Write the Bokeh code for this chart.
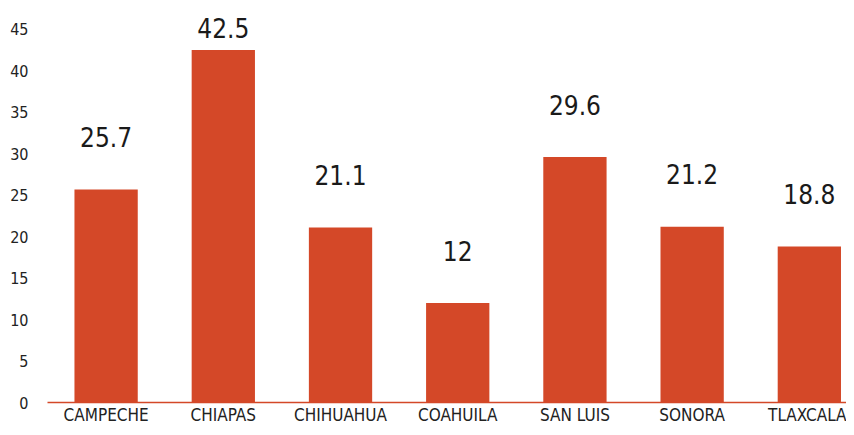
import numpy as np
from bokeh.plotting import figure
from bokeh.models import Range1d, FixedTicker, ColumnDataSource
from bokeh.core.properties import value
from bokeh.embed import file_html
from bokeh.resources import INLINE

categories = ["CAMPECHE", "CHIAPAS", "CHIHUAHUA", "COAHUILA", "SAN LUIS", "SONORA", "TLAXCALA"]
values = [25.7, 42.5, 21.1, 12, 29.6, 21.2, 18.8]
value_labels = ["25.7", "42.5", "21.1", "12", "29.6", "21.2", "18.8"]
y_ticks = [0, 5, 10, 15, 20, 25, 30, 35, 40, 45]

FONT = "DejaVu Sans Condensed"
BAR = "#D44828"

idx = np.arange(len(categories))
vals = np.array(values, dtype=float)
label_y = np.minimum(vals + 5.1, 44.0)

src = ColumnDataSource(dict(x=idx, top=vals, ly=label_y, lab=value_labels))

p = figure(width=846, height=427, output_backend="svg", toolbar_location=None,
           x_range=Range1d(-0.5, 6.317), y_range=Range1d(0, 48),
           min_border_left=47, min_border_right=0, min_border_top=4, min_border_bottom=22)
p.outline_line_color = None
p.background_fill_color = "white"
p.border_fill_color = "white"
p.grid.visible = False

p.vbar(x="x", top="top", width=0.54, bottom=0, source=src, fill_color=BAR, line_color=None)
p.text(x="x", y="ly", text="lab", source=src, text_align="center", text_baseline="alphabetic",
       y_offset=-10, text_font=value(FONT), text_font_size="26px", text_color="#1a1a1a")

xa = p.xaxis[0]
xa.ticker = FixedTicker(ticks=list(idx))
xa.major_label_overrides = {int(i): c for i, c in zip(idx, categories)}
xa.axis_line_color = BAR
xa.axis_line_width = 1.5
xa.major_tick_line_color = None
xa.minor_tick_line_color = None
xa.major_tick_out = 0
xa.major_tick_in = 0
xa.major_label_standoff = 2
xa.major_label_text_font = FONT
xa.major_label_text_font_size = "17px"
xa.major_label_text_color = "#222222"

ya = p.yaxis[0]
ya.ticker = FixedTicker(ticks=y_ticks)
ya.axis_line_color = None
ya.major_tick_line_color = None
ya.minor_tick_line_color = None
ya.major_tick_out = 0
ya.major_tick_in = 0
ya.major_label_standoff = 19
ya.major_label_text_font = FONT
ya.major_label_text_font_size = "16px"
ya.major_label_text_color = "#222222"

open("out.html", "w").write(file_html(p, INLINE))
